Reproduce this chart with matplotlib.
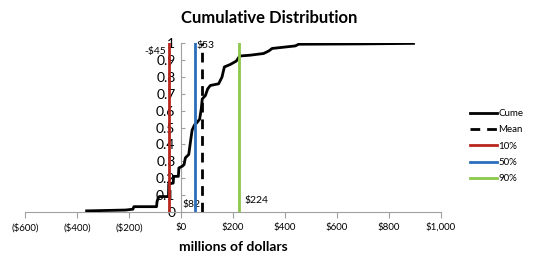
import matplotlib
matplotlib.use('Agg')
import matplotlib.pyplot as plt
import numpy as np

plt.rcParams['font.family'] = ['Lato', 'DejaVu Sans']

# cumulative curve (millions of dollars, probability)
cume_x = [-363, -213, -185, -181, -94, -92, -88, -83, -48, -47, -30, -28, -10, -8,
          5, 12, 17, 30, 37, 43, 52, 62, 72, 78, 82, 94, 103, 113, 145, 158, 167,
          190, 213, 226, 267, 318, 338, 351, 440, 453, 700, 895]
cume_y = [0.005, 0.01, 0.015, 0.03, 0.03, 0.06, 0.08, 0.09, 0.09, 0.165, 0.17, 0.21, 0.21, 0.26,
          0.27, 0.28, 0.32, 0.34, 0.42, 0.485, 0.515, 0.53, 0.55, 0.61, 0.67, 0.69, 0.73, 0.75, 0.76, 0.80, 0.86,
          0.875, 0.895, 0.925, 0.93, 0.94, 0.955, 0.97, 0.985, 0.995, 0.997, 1.0]

mean_val = 82
p10, p50, p90 = -45, 53, 224
xticks = [-600, -400, -200, 0, 200, 400, 600, 800, 1000]
xtick_labels = ['($600)', '($400)', '($200)', '$0', '$200', '$400', '$600', '$800', '$1,000']
yticks = [0, 0.1, 0.2, 0.3, 0.4, 0.5, 0.6, 0.7, 0.8, 0.9, 1]
ytick_labels = ['0', '0.1', '0.2', '0.3', '0.4', '0.5', '0.6', '0.7', '0.8', '0.9', '1']

fig = plt.figure(figsize=(5.33, 2.63), dpi=100)
ax = fig.add_axes([0.047, 0.195, 0.78, 0.64])

ax.plot(cume_x, cume_y, color='black', lw=2, label='Cume', zorder=3)
ax.plot([mean_val, mean_val], [0, 1], color='black', lw=2, linestyle=(0, (3.5, 2.5)), label='Mean', zorder=4)
ax.plot([p10, p10], [0, 1], color='#B8261E', lw=2, label='10%', zorder=4)
ax.plot([p50, p50], [0, 1], color='#2A6EBB', lw=2, label='50%', zorder=4)
ax.plot([p90, p90], [0, 1], color='#8CC84B', lw=2, label='90%', zorder=4)

ax.text(p10 - 12, 0.95, '-$45', fontsize=7.5, ha='right', va='center')
ax.text(p50 + 5, 0.99, '$53', fontsize=7.5, ha='left', va='center')
ax.text(5, 0.04, '$82', fontsize=7.5, ha='left', va='center')
ax.text(p90 + 22, 0.065, '$224', fontsize=7.5, ha='left', va='center')

ax.set_xlim(-600, 1000)
ax.set_ylim(0, 1)
ax.set_xticks(xticks)
ax.set_xticklabels(xtick_labels, fontsize=7)
ax.set_yticks(yticks)
ax.set_yticklabels(ytick_labels, fontsize=7.5)

for s in ['top', 'right']:
    ax.spines[s].set_visible(False)
ax.spines['left'].set_position(('data', 0))
ax.spines['left'].set_color('#A0A0A0')
ax.spines['bottom'].set_color('#A0A0A0')
ax.tick_params(axis='x', length=4, color='#A0A0A0', pad=4)
ax.tick_params(axis='y', direction='in', length=3, color='#A0A0A0', pad=4)

ax.set_xlabel('millions of dollars', fontsize=10, fontweight='bold', labelpad=6)
fig.text(0.505, 0.93, 'Cumulative Distribution', fontsize=12, fontweight='bold', ha='center', va='center')

fig.legend(loc='upper left', bbox_to_anchor=(0.882, 0.585), frameon=False, fontsize=7,
           handlelength=2.8, handletextpad=0.1, labelspacing=0.75,
           borderpad=0, borderaxespad=0)

fig.savefig('out.png', dpi=100)
